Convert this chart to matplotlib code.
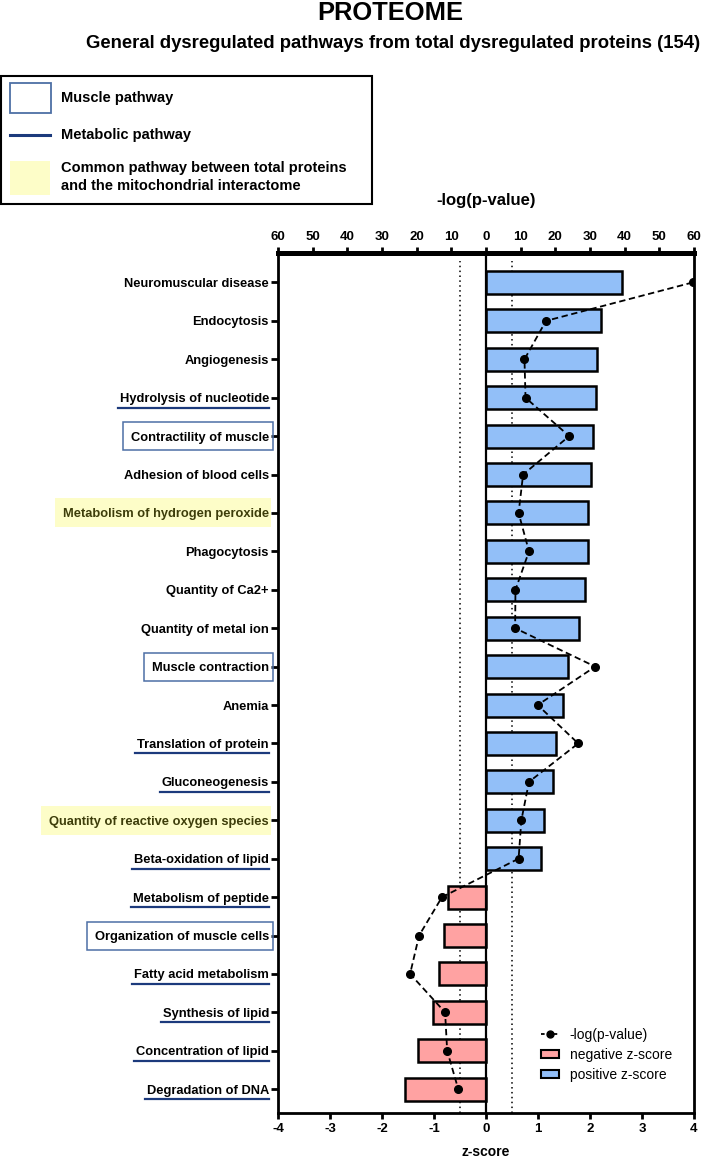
import matplotlib
matplotlib.use("Agg")
import matplotlib.pyplot as plt
from matplotlib.patches import Rectangle, Patch
from matplotlib.lines import Line2D
from matplotlib.ticker import FuncFormatter
import numpy as np

plt.rcParams["font.family"] = ["Liberation Sans", "DejaVu Sans"]

# data
pathways = ["Neuromuscular disease", "Endocytosis", "Angiogenesis",
            "Hydrolysis of nucleotide", "Contractility of muscle",
            "Adhesion of blood cells", "Metabolism of hydrogen peroxide",
            "Phagocytosis", "Quantity of Ca2+", "Quantity of metal ion",
            "Muscle contraction", "Anemia", "Translation of protein",
            "Gluconeogenesis", "Quantity of reactive oxygen species",
            "Beta-oxidation of lipid", "Metabolism of peptide",
            "Organization of muscle cells", "Fatty acid metabolism",
            "Synthesis of lipid", "Concentration of lipid", "Degradation of DNA"]
zscores = [2.62, 2.21, 2.14, 2.12, 2.05, 2.02, 1.97, 1.97, 1.90, 1.78, 1.57,
           1.48, 1.34, 1.28, 1.11, 1.06, -0.74, -0.80, -0.91, -1.01, -1.31, -1.55]
neglogp = [59.6, 17.3, 11.1, 11.4, 24.0, 10.7, 9.4, 12.4, 8.5, 8.4, 31.5,
           14.9, 26.6, 12.4, 10.2, 9.4, 12.7, 19.3, 21.9, 11.8, 11.2, 8.0]

muscle = ["Contractility of muscle", "Muscle contraction", "Organization of muscle cells"]
metabolic = ["Hydrolysis of nucleotide", "Translation of protein", "Gluconeogenesis",
             "Beta-oxidation of lipid", "Metabolism of peptide", "Fatty acid metabolism",
             "Synthesis of lipid", "Concentration of lipid", "Degradation of DNA"]
common = ["Metabolism of hydrogen peroxide", "Quantity of reactive oxygen species"]

POS = "#92bff8"
NEG = "#ffa2a2"
NAVY = "#1c3a7c"
BOXBLUE = "#4d6fa5"
YELLOW = "#fdfdc8"

W, H = 702, 1158
fig = plt.figure(figsize=(W / 100, H / 100), dpi=100)


def fx(x):
    return x / W


def fy(y):
    return 1 - y / H


ax = fig.add_axes([fx(278), fy(1113), (694 - 278) / W, (1113 - 252.5) / H])
rows = np.arange(len(pathways))
colors = [POS if z > 0 else NEG for z in zscores]
ax.barh(rows, zscores, height=0.6, color=colors, edgecolor="black", linewidth=1.8, zorder=3)
ax.set_xlim(-4, 4)
ax.set_ylim(len(pathways) - 1 + 0.62, -0.78)
ax.axvline(0, color="black", lw=1.6, zorder=4)
for v in (-0.5, 0.5):
    ax.axvline(v, color="black", lw=1.1, ls=(0, (1, 2.2)), ymax=0.99, zorder=1)

ax.set_yticks(rows)
ax.set_yticklabels(pathways, fontweight="bold", fontsize=9.3)
ax.set_xticks(np.arange(-4, 5, 1))
ax.set_xticklabels([str(v) for v in range(-4, 5)], fontweight="bold", fontsize=9.5)
ax.tick_params(axis="y", length=5, width=2, pad=1.5)
ax.tick_params(axis="x", length=4.5, width=2, pad=3)
for s in ("left", "right", "bottom"):
    ax.spines[s].set_linewidth(2)
ax.spines["top"].set_visible(False)

# -log(p-value) on the mirrored top axis
ax2 = ax.twiny()
ax2.set_xlim(-60, 60)
ax2.set_xticks(np.arange(-60, 61, 10))
ax2.xaxis.set_major_formatter(FuncFormatter(lambda v, p: f"{abs(int(round(v)))}"))
ax2.tick_params(axis="x", length=4.5, width=2, pad=2, labelsize=9.5)
for s in ("left", "right", "bottom"):
    ax2.spines[s].set_visible(False)
ax2.spines["top"].set_linewidth(3.6)
signed_p = [p if z > 0 else -p for p, z in zip(neglogp, zscores)]
ax2.plot(signed_p, rows, color="black", ls=(0, (3.5, 2)), lw=1.3,
         marker="o", ms=5.5, zorder=5)
for lab in ax2.get_xticklabels():
    lab.set_fontweight("bold")

# titles
fig.text(fx(390), fy(13), "PROTEOME", ha="center", va="center",
         fontsize=18.4, fontweight="bold")
fig.text(fx(700), fy(44), "General dysregulated pathways from total dysregulated proteins (154)",
         ha="right", va="center", fontsize=13.3, fontweight="bold")
fig.text(fx(486), fy(200), "-log(p-value)", ha="center", va="center",
         fontsize=12, fontweight="bold")
fig.text(fx(486), fy(1152), "z-score", ha="center", va="center",
         fontsize=10, fontweight="bold")

# top-left key box
fig.add_artist(Rectangle((fx(1), fy(204)), 371 / W, 128 / H, transform=fig.transFigure,
                         fill=False, ec="black", lw=1.5))
fig.add_artist(Rectangle((fx(10), fy(113)), 41 / W, 30 / H, transform=fig.transFigure,
                         fill=False, ec=BOXBLUE, lw=1.3))
fig.add_artist(Line2D([fx(10), fx(50)], [fy(135), fy(135)], transform=fig.transFigure,
                      color=NAVY, lw=2.2))
fig.add_artist(Rectangle((fx(10), fy(195)), 40 / W, 34 / H, transform=fig.transFigure,
                         fc=YELLOW, ec="none"))
key_kw = dict(ha="left", va="center", fontsize=10.5, fontweight="bold")
fig.text(fx(61), fy(98), "Muscle pathway", **key_kw)
fig.text(fx(61), fy(135), "Metabolic pathway", **key_kw)
fig.text(fx(61), fy(168), "Common pathway between total proteins", **key_kw)
fig.text(fx(61), fy(186), "and the mitochondrial interactome", **key_kw)

# bottom legend
handles = [Line2D([], [], color="black", ls=(0, (2, 1.5)), lw=1.3, marker="o", ms=5),
           Patch(fc=NEG, ec="black", lw=1.5),
           Patch(fc=POS, ec="black", lw=1.5)]
fig.legend(handles, ["-log(p-value)", "negative z-score", "positive z-score"],
           loc="upper left", bbox_to_anchor=(fx(535), fy(1022)), frameon=False,
           fontsize=10, handlelength=1.3, handleheight=0.5, labelspacing=0.45,
           handletextpad=0.8, borderaxespad=0)

# label decorations
fig.canvas.draw()
for i, lab in enumerate(ax.get_yticklabels()):
    name = lab.get_text()
    bb = lab.get_window_extent()
    yc = ax.transData.transform((0, i))[1]
    if name in common:
        lab.set_color("#3d3d0a")
        fig.add_artist(Rectangle(((bb.x0 - 8) / W, (yc - 14.5) / H), (bb.x1 - bb.x0 + 10) / W,
                                 29 / H, transform=fig.transFigure, fc=YELLOW, ec="none",
                                 zorder=-1))
    elif name in muscle:
        fig.add_artist(Rectangle(((bb.x0 - 8) / W, (yc - 14) / H), (bb.x1 - bb.x0 + 12) / W,
                                 28 / H, transform=fig.transFigure, fill=False,
                                 ec=BOXBLUE, lw=1.1))
    elif name in metabolic:
        fig.add_artist(Line2D([(bb.x0 - 2) / W, bb.x1 / W], [(yc - 10) / H, (yc - 10) / H],
                              transform=fig.transFigure, color=NAVY, lw=1.6))

fig.savefig("out.png", dpi=100)
